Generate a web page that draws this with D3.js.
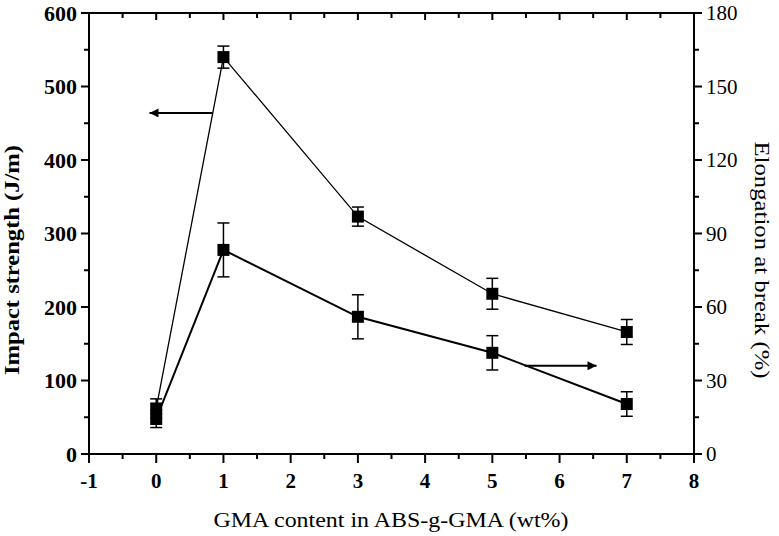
<!DOCTYPE html>
<html>
<head>
<meta charset="utf-8">
<script src="https://cdn.jsdelivr.net/npm/d3@7"></script>
<style>
  body { margin: 0; background: #fff; }
  svg text { font-family: "Liberation Serif", "DejaVu Serif", serif; fill: #000; }
</style>
</head>
<body>
<svg class="chart" width="779" height="536"></svg>
<script>
// GMA content (wt%)
var gma = [0, 1, 3, 5, 7];
// impact strength (J/m), left axis
var impact = [62, 540, 323, 218, 166];
var impactErr = [13, 15, 13, 21, 17];
// elongation at break (%), right axis
var elong = [14.3, 83.3, 56.0, 41.3, 20.4];
var elongErr = [3.5, 11, 9, 7, 5];

var xTicks = [-1, 0, 1, 2, 3, 4, 5, 6, 7, 8];
var leftTicks = [0, 100, 200, 300, 400, 500, 600];
var rightTicks = [0, 30, 60, 90, 120, 150, 180];

// arrows pointing to each series' axis: [x0, x1, y]
var impactArrow = [0.84, -0.1, 464];
var elongArrow = [5.48, 6.55, 36];

var svg = d3.select("svg.chart"),
    margin = {top: 13, right: 85, bottom: 82, left: 89},
    width = +svg.attr("width") - margin.left - margin.right,
    height = +svg.attr("height") - margin.top - margin.bottom,
    g = svg.append("g").attr("transform", "translate(" + margin.left + "," + margin.top + ")");

var x = d3.scaleLinear().domain([-1, 8]).range([0, width]);
var yL = d3.scaleLinear().domain([0, 600]).range([height, 0]);
var yR = d3.scaleLinear().domain([0, 180]).range([height, 0]);

var minorX = d3.range(-0.5, 8, 1);
var minorL = d3.range(50, 600, 100);
var minorR = d3.range(15, 180, 30);

// frame
g.append("rect")
    .attr("width", width).attr("height", height)
    .attr("fill", "none").attr("stroke", "#000").attr("stroke-width", 2);

// bottom axis
var bx = g.append("g").attr("transform", "translate(0," + height + ")");
bx.selectAll(".maj").data(xTicks).enter().append("line")
    .attr("x1", d => x(d)).attr("x2", d => x(d)).attr("y1", 0).attr("y2", 9)
    .attr("stroke", "#000").attr("stroke-width", 2);
bx.selectAll(".min").data(minorX).enter().append("line")
    .attr("x1", d => x(d)).attr("x2", d => x(d)).attr("y1", 0).attr("y2", 5)
    .attr("stroke", "#000").attr("stroke-width", 2);
bx.selectAll("text").data(xTicks).enter().append("text")
    .attr("x", d => x(d)).attr("y", 34)
    .attr("text-anchor", "middle").style("font-size", "21px").style("font-weight", "bold")
    .text(d => d);

// top axis, inward ticks
var tx = g.append("g");
tx.selectAll(".maj").data(xTicks).enter().append("line")
    .attr("x1", d => x(d)).attr("x2", d => x(d)).attr("y1", 0).attr("y2", 7)
    .attr("stroke", "#000").attr("stroke-width", 2);
tx.selectAll(".min").data(minorX).enter().append("line")
    .attr("x1", d => x(d)).attr("x2", d => x(d)).attr("y1", 0).attr("y2", 5)
    .attr("stroke", "#000").attr("stroke-width", 2);

// left axis
var lx = g.append("g");
lx.selectAll(".maj").data(leftTicks).enter().append("line")
    .attr("x1", -8).attr("x2", 0).attr("y1", d => yL(d)).attr("y2", d => yL(d))
    .attr("stroke", "#000").attr("stroke-width", 2);
lx.selectAll(".min").data(minorL).enter().append("line")
    .attr("x1", -5).attr("x2", 0).attr("y1", d => yL(d)).attr("y2", d => yL(d))
    .attr("stroke", "#000").attr("stroke-width", 2);
lx.selectAll("text").data(leftTicks).enter().append("text")
    .attr("x", -12).attr("y", d => yL(d)).attr("dy", "0.35em")
    .attr("text-anchor", "end").style("font-size", "22px").style("font-weight", "bold")
    .text(d => d);

// right axis
var rx = g.append("g").attr("transform", "translate(" + width + ",0)");
rx.selectAll(".maj").data(rightTicks).enter().append("line")
    .attr("x1", 0).attr("x2", 8).attr("y1", d => yR(d)).attr("y2", d => yR(d))
    .attr("stroke", "#000").attr("stroke-width", 2);
rx.selectAll(".min").data(minorR).enter().append("line")
    .attr("x1", 0).attr("x2", 5).attr("y1", d => yR(d)).attr("y2", d => yR(d))
    .attr("stroke", "#000").attr("stroke-width", 2);
rx.selectAll("text").data(rightTicks).enter().append("text")
    .attr("x", 12).attr("y", d => yR(d)).attr("dy", "0.35em")
    .attr("text-anchor", "start").style("font-size", "21px")
    .text(d => d);

// axis titles
g.append("text")
    .attr("transform", "rotate(-90)")
    .attr("x", -247).attr("y", -70)
    .attr("text-anchor", "middle").style("font-size", "22px").style("font-weight", "bold")
    .attr("textLength", 230).attr("lengthAdjust", "spacingAndGlyphs")
    .text("Impact strength (J/m)");

g.append("text")
    .attr("transform", "rotate(90)")
    .attr("x", 247).attr("y", -width - 61)
    .attr("text-anchor", "middle").style("font-size", "22px")
    .attr("textLength", 237).attr("lengthAdjust", "spacingAndGlyphs")
    .text("Elongation at break (%)");

g.append("text")
    .attr("x", 391 - margin.left).attr("y", height + 73)
    .attr("text-anchor", "middle").style("font-size", "22px")
    .attr("textLength", 355).attr("lengthAdjust", "spacingAndGlyphs")
    .text("GMA content in ABS-g-GMA (wt%)");

var drawSeries = function (xs, ys, errs, y, lw) {
  var pts = xs.map(function (d, i) { return {x: d, y: ys[i], e: errs[i]}; });
  var line = d3.line().x(d => x(d.x)).y(d => y(d.y));
  g.append("path").datum(pts)
      .attr("d", line).attr("fill", "none").attr("stroke", "#000").attr("stroke-width", lw);
  var eb = g.append("g").selectAll("g").data(pts).enter().append("g");
  eb.append("line")
      .attr("x1", d => x(d.x)).attr("x2", d => x(d.x))
      .attr("y1", d => y(d.y - d.e)).attr("y2", d => y(d.y + d.e))
      .attr("stroke", "#000").attr("stroke-width", 1.5);
  [-1, 1].forEach(function (s) {
    eb.append("line")
        .attr("x1", d => x(d.x) - 6).attr("x2", d => x(d.x) + 6)
        .attr("y1", d => y(d.y + s * d.e)).attr("y2", d => y(d.y + s * d.e))
        .attr("stroke", "#000").attr("stroke-width", 1.5);
  });
  eb.append("rect")
      .attr("x", d => x(d.x) - 6).attr("y", d => y(d.y) - 6)
      .attr("width", 12).attr("height", 12).attr("fill", "#000");
};

drawSeries(gma, impact, impactErr, yL, 1.3);
drawSeries(gma, elong, elongErr, yR, 2);

// arrows
svg.append("defs").append("marker")
    .attr("id", "head").attr("viewBox", "0 0 10 10")
    .attr("refX", 10).attr("refY", 5)
    .attr("markerWidth", 16).attr("markerHeight", 9).attr("orient", "auto")
    .attr("markerUnits", "userSpaceOnUse")
  .append("path").attr("d", "M0,0 L10,5 L0,10 Z").attr("fill", "#000");

g.append("line")
    .attr("x1", x(impactArrow[0])).attr("x2", x(impactArrow[1]))
    .attr("y1", yL(impactArrow[2])).attr("y2", yL(impactArrow[2]))
    .attr("stroke", "#000").attr("stroke-width", 2).attr("marker-end", "url(#head)");
g.append("line")
    .attr("x1", x(elongArrow[0])).attr("x2", x(elongArrow[1]))
    .attr("y1", yR(elongArrow[2])).attr("y2", yR(elongArrow[2]))
    .attr("stroke", "#000").attr("stroke-width", 2).attr("marker-end", "url(#head)");
</script>
</body>
</html>
